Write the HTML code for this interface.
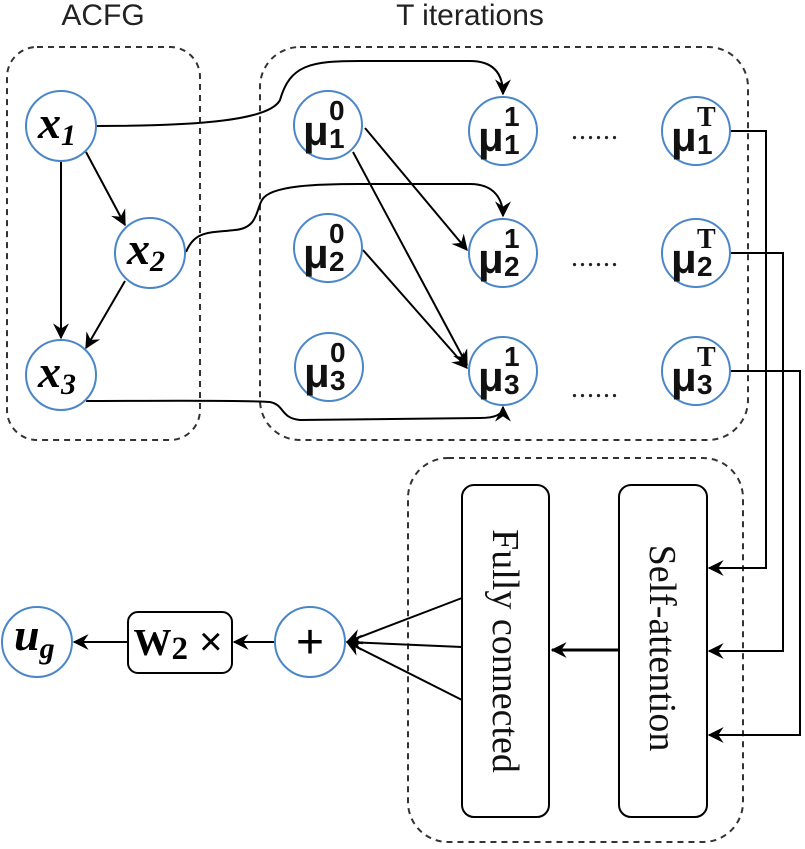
<!DOCTYPE html>
<html><head><meta charset="utf-8"><style>
html,body{margin:0;padding:0;background:#fff;width:805px;height:849px;overflow:hidden}
svg{display:block}
</style></head><body>
<svg width="805" height="849" viewBox="0 0 805 849" xmlns="http://www.w3.org/2000/svg">
<defs>
<marker id="a" viewBox="0 0 12 12" refX="11" refY="6" markerWidth="16" markerHeight="16" markerUnits="userSpaceOnUse" orient="auto">
<path d="M0,0 L12,6 L0,12 L4,6 Z" fill="#000"/></marker>
</defs>
<text x="103" y="25" text-anchor="middle" font-family="Liberation Sans, sans-serif" font-size="30" fill="#222">ACFG</text>
<text x="470" y="25" text-anchor="middle" font-family="Liberation Sans, sans-serif" font-size="30" fill="#222">T iterations</text>
<g fill="none" stroke="#333" stroke-width="2" stroke-dasharray="6,5">
<rect x="7" y="47" width="193" height="393" rx="30"/>
<rect x="260" y="47" width="488" height="393" rx="40"/>
<rect x="408" y="458" width="335" height="384" rx="40"/>
</g>
<g fill="none" stroke="#000" stroke-width="2">
<line x1="61" y1="161" x2="61" y2="338" marker-end="url(#a)"/>
<line x1="86" y1="152" x2="125" y2="225" marker-end="url(#a)"/>
<line x1="125" y1="281" x2="86" y2="348" marker-end="url(#a)"/>
<path d="M97,126 C200,126 270,120 280,100 C290,65 310,61 360,61 L470,61 C495,61 503,75 503,94" marker-end="url(#a)"/>
<path d="M186,252 C195,230 210,233 235,230 C258,228 256,210 262,200 C270,185 320,184 360,184 L470,184 C495,184 503,200 503,216" marker-end="url(#a)"/>
<path d="M86,401 C160,401 240,400 270,402 C285,405 280,418 300,420 L480,418 C500,418 503,412 503,407" marker-end="url(#a)"/>
<line x1="365" y1="128" x2="467" y2="250" marker-end="url(#a)"/>
<line x1="353" y1="152" x2="467" y2="365" marker-end="url(#a)"/>
<line x1="363" y1="250" x2="467" y2="368" marker-end="url(#a)"/>
<polyline points="731,131 766,131 766,568 709,568" marker-end="url(#a)"/>
<polyline points="731,253 783,253 783,651 709,651" marker-end="url(#a)"/>
<polyline points="731,371 800,371 800,735 709,735" marker-end="url(#a)"/>
<rect x="462" y="485" width="87" height="332" rx="12"/>
<rect x="619" y="485" width="88" height="332" rx="12"/>
<rect x="128" y="612" width="104" height="61" rx="10"/>
<line x1="619" y1="650" x2="552" y2="650" stroke-width="3" marker-end="url(#a)"/>
<line x1="462" y1="598" x2="347" y2="642" marker-end="url(#a)"/>
<line x1="462" y1="647" x2="347" y2="642" marker-end="url(#a)"/>
<line x1="462" y1="700" x2="347" y2="642" marker-end="url(#a)"/>
<line x1="275" y1="642" x2="234" y2="642" marker-end="url(#a)"/>
<line x1="128" y1="642" x2="74" y2="642" marker-end="url(#a)"/>
</g>
<g fill="#fff" stroke="#4a86c8" stroke-width="2">
<circle cx="61" cy="126" r="35"/><circle cx="150" cy="253" r="35"/><circle cx="61" cy="375" r="35"/>
<circle cx="328" cy="125" r="34"/><circle cx="328" cy="248" r="34"/><circle cx="329" cy="367" r="34"/>
<circle cx="503" cy="131" r="34"/><circle cx="503" cy="253" r="34"/><circle cx="503" cy="371" r="34"/>
<circle cx="696" cy="131" r="34"/><circle cx="696" cy="253" r="34"/><circle cx="696" cy="371" r="34"/>
<circle cx="310" cy="642" r="35"/><circle cx="37" cy="642" r="35"/>
</g>
<g font-family="Liberation Serif, serif" font-style="italic" font-weight="bold" font-size="46" fill="#000">
<text x="38" y="138">x<tspan font-size="30" dy="7">1</tspan></text>
<text x="127" y="264">x<tspan font-size="30" dy="7">2</tspan></text>
<text x="38" y="387">x<tspan font-size="30" dy="7">3</tspan></text>
<text x="14" y="650">u<tspan font-size="30" dy="8">g</tspan></text>
</g>
<g font-family="Liberation Sans, DejaVu Sans, sans-serif" font-weight="bold" fill="#111">
<g font-size="42">
<text x="303" y="145">μ</text><text x="303" y="268">μ</text><text x="304" y="387">μ</text>
<text x="478" y="151">μ</text><text x="478" y="273">μ</text><text x="478" y="391">μ</text>
<text x="671" y="151">μ</text><text x="671" y="273">μ</text><text x="671" y="391">μ</text>
</g>
<g font-size="28">
<text x="329" y="120">0</text><text x="329" y="148">1</text>
<text x="329" y="243">0</text><text x="329" y="271">2</text>
<text x="330" y="362">0</text><text x="330" y="390">3</text>
<text x="504" y="126">1</text><text x="504" y="154">1</text>
<text x="504" y="248">1</text><text x="504" y="276">2</text>
<text x="504" y="366">1</text><text x="504" y="394">3</text>
<text x="697" y="126" font-family="Liberation Serif, serif">T</text><text x="697" y="154">1</text>
<text x="697" y="248" font-family="Liberation Serif, serif">T</text><text x="697" y="276">2</text>
<text x="697" y="366" font-family="Liberation Serif, serif">T</text><text x="697" y="394">3</text>
</g>
</g>
<g font-family="Liberation Serif, serif" font-size="28" fill="#222" letter-spacing="1">
<text x="571" y="139">......</text><text x="571" y="266">......</text><text x="571" y="397">......</text>
</g>
<text x="310" y="658" text-anchor="middle" font-family="Liberation Sans, sans-serif" font-size="48">+</text>
<text x="178" y="655" text-anchor="middle" font-family="Liberation Serif, serif" font-weight="bold" font-size="38">W<tspan font-size="33" dy="4">2</tspan><tspan dy="-4" font-family="Liberation Sans, sans-serif" font-weight="normal" font-size="40"> ×</tspan></text>
<g font-family="Liberation Serif, serif" font-size="38" fill="#111">
<text transform="translate(493,651) rotate(90)" text-anchor="middle">Fully connected</text>
<text transform="translate(650,648) rotate(90)" text-anchor="middle">Self-attention</text>
</g>
</svg>
</body></html>
